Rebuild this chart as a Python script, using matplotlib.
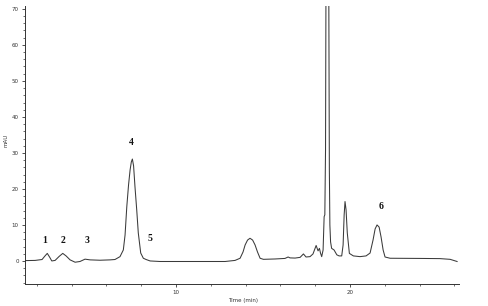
import matplotlib
matplotlib.use("Agg")
import matplotlib.pyplot as plt
from matplotlib.ticker import MultipleLocator, FixedLocator

# Chromatogram trace (time in min, signal in mAU)
time_min = [1.32, 1.90, 2.30, 2.47, 2.60, 2.73, 2.86, 3.05, 3.28, 3.49, 3.68, 3.91,
            4.20, 4.48, 4.77, 5.06, 5.63, 6.21, 6.49, 6.78, 6.97, 7.07, 7.17, 7.27,
            7.36, 7.43, 7.49, 7.56, 7.64, 7.74, 7.83, 7.97, 8.12, 8.28, 8.51, 9.08,
            12.82, 13.39, 13.68, 13.85, 13.97, 14.11, 14.25, 14.40, 14.54, 14.68,
            14.83, 15.02, 15.69, 16.26, 16.44, 16.55, 16.84, 17.13, 17.32, 17.47,
            17.70, 17.87, 18.05, 18.16, 18.24, 18.30, 18.37, 18.45, 18.51, 18.55,
            18.59, 18.62, 18.68, 18.76, 18.78, 18.81, 18.84, 18.88, 18.94, 19.08,
            19.24, 19.37, 19.52, 19.60, 19.66, 19.71, 19.77, 19.84, 19.96, 20.19,
            20.57, 20.92, 21.15, 21.32, 21.44, 21.55, 21.67, 21.78, 21.90, 22.01,
            22.30, 24.02, 25.17, 25.75, 26.15]
signal_mau = [0.1, 0.15, 0.4, 1.4, 2.1, 1.1, 0.0, 0.15, 1.25, 2.1, 1.4, 0.3,
              -0.35, -0.15, 0.5, 0.3, 0.2, 0.3, 0.4, 1.2, 3.05, 7.2, 15.1, 21.1,
              25.3, 27.5, 28.3, 26.4, 20.6, 14.2, 7.8, 2.2, 0.75, 0.4, 0.0, -0.15,
              -0.15, 0.15, 0.75, 2.5, 4.45, 5.8, 6.3, 5.8, 4.45, 2.5,
              0.75, 0.45, 0.55, 0.7, 1.1, 0.85, 0.8, 1.0, 1.95, 1.1,
              1.2, 1.95, 4.3, 2.8, 3.5, 2.2, 1.2, 3.05, 12.3, 12.8,
              30.8, 85.0, 95.0, 85.0, 71.0, 25.3, 10.0, 5.3, 3.5, 3.05,
              1.7, 1.4, 1.4, 4.45, 12.8, 16.5, 14.2, 7.8, 2.1, 1.4,
              1.2, 1.4, 2.2, 5.8, 8.9, 10.0, 9.4, 6.7, 3.05, 1.1,
              0.75, 0.7, 0.65, 0.45, -0.15]

peak_labels = ["1", "2", "3", "4", "5", "6"]
label_time = [2.47, 3.51, 4.89, 7.41, 8.51, 21.78]
label_mau = [5.6, 5.6, 5.6, 32.8, 6.1, 15.0]

y_major_ticks = [0, 10, 20, 30, 40, 50, 60, 70]
x_major_ticks = [10, 20]

fig = plt.figure(figsize=(4.88, 3.06), dpi=100)
ax = fig.add_axes([25 / 488, 1 - 284 / 306, (459 - 25) / 488, (284 - 6) / 306])

ax.plot(time_min, signal_mau, color="#3a3a3a", lw=0.75)

ax.set_xlim(1.32, 26.26)
ax.set_ylim(-6.4, 70.8)

for s in ["top", "right"]:
    ax.spines[s].set_visible(False)
for s in ["left", "bottom"]:
    ax.spines[s].set_linewidth(0.7)
    ax.spines[s].set_color("#333333")

ax.yaxis.set_major_locator(FixedLocator(y_major_ticks))
ax.yaxis.set_minor_locator(MultipleLocator(2))
ax.xaxis.set_major_locator(FixedLocator(x_major_ticks))
ax.xaxis.set_minor_locator(MultipleLocator(2))
ax.tick_params(axis="both", which="major", direction="out", length=2.5, width=0.6,
               labelsize=4, pad=2, colors="#333333")
ax.tick_params(axis="both", which="minor", direction="out", length=1.5, width=0.5,
               colors="#333333")

ax.set_ylabel("mAU", fontsize=4, color="#333333", va="center")
ax.yaxis.set_label_coords(-0.044, 0.515)
ax.set_xlabel("Time (min)", fontsize=4, color="#333333", va="center")
ax.xaxis.set_label_coords(0.502, -0.058)

for lab, tx, ty in zip(peak_labels, label_time, label_mau):
    ax.text(tx, ty, lab, ha="center", va="center", fontsize=7, fontweight="bold",
            family="Liberation Serif", color="#111111")

fig.savefig("out.png", dpi=100)
